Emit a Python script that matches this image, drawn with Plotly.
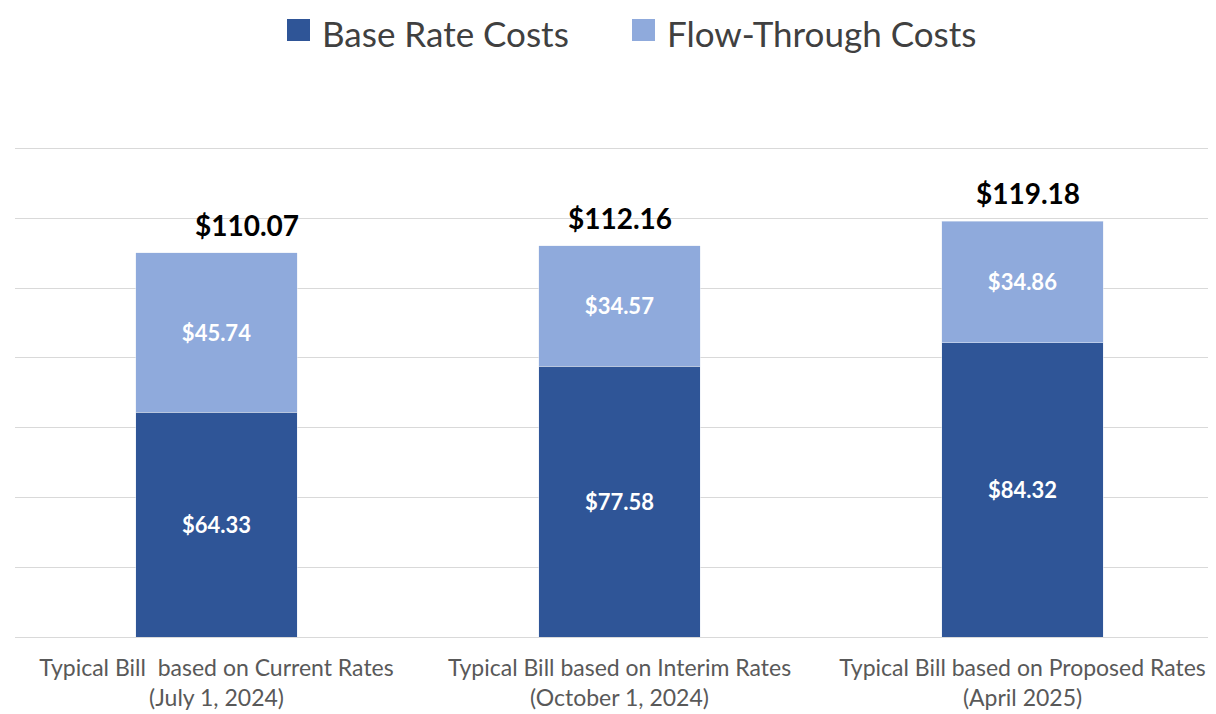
import plotly.graph_objects as go

categories = [
    "Typical Bill  based on Current Rates<br>(July 1, 2024)",
    "Typical Bill based on Interim Rates<br>(October 1, 2024)",
    "Typical Bill based on Proposed Rates<br>(April 2025)",
]
base_rate = [64.33, 77.58, 84.32]
flow_through = [45.74, 34.57, 34.86]
totals = [110.07, 112.16, 119.18]
series_names = ["Base Rate Costs", "Flow-Through Costs"]

dark_blue = "#2F5597"
light_blue = "#8FAADC"
font_name = "Lato"

# plot area in pixels (page body adds an 8px offset)
PLOT_L, PLOT_T, PLOT_W, PLOT_H = 7, 139, 1209, 490
OFF = 8


def paper_x(sx):
    return (sx - OFF - PLOT_L) / PLOT_W


def paper_y(sy):
    return (PLOT_T + PLOT_H - (sy - OFF)) / PLOT_H


fig = go.Figure()

fig.add_trace(go.Bar(
    x=categories, y=base_rate, name=series_names[0],
    marker_color=dark_blue, showlegend=False,
    texttemplate="$%{y:.2f}", textposition="inside", insidetextanchor="middle",
    textfont=dict(color="white", size=22, family=font_name, weight="bold"),
))
fig.add_trace(go.Bar(
    x=categories, y=flow_through, name=series_names[1],
    marker_color=light_blue, showlegend=False,
    texttemplate="$%{y:.2f}", textposition="inside", insidetextanchor="middle",
    textfont=dict(color="white", size=22, family=font_name, weight="bold"),
))

# total labels above each bar
shifts = [30, 0, 5]
for cat, tot, dx in zip(categories, totals, shifts):
    fig.add_annotation(
        x=cat, y=tot, text=f"<b>${tot:.2f}</b>", showarrow=False,
        yanchor="middle", yshift=28, xshift=dx,
        font=dict(size=28, color="black", family=font_name),
    )

# legend drawn by hand so it can sit right at the top like the original
legend_left = [287, 632]
for name, col, left in zip(series_names, [dark_blue, light_blue], legend_left):
    fig.add_shape(
        type="rect", xref="paper", yref="paper",
        x0=paper_x(left), x1=paper_x(left + 23),
        y0=paper_y(41), y1=paper_y(19),
        fillcolor=col, line_width=0,
    )
    fig.add_annotation(
        xref="paper", yref="paper", x=paper_x(left + 33), y=paper_y(33),
        xanchor="left", yanchor="middle", text=name, showarrow=False,
        font=dict(size=35, color="#404040", family=font_name),
    )

fig.update_layout(
    barmode="stack",
    bargap=0.6,
    width=1216, height=714,
    margin=dict(l=PLOT_L, r=0, t=PLOT_T, b=714 - PLOT_T - PLOT_H),
    paper_bgcolor="white", plot_bgcolor="white",
    font=dict(family=font_name),
    showlegend=False,
    xaxis=dict(
        showline=True, linecolor="#d9d9d9", linewidth=1,
        tickfont=dict(size=23, color="#595959"),
        ticklabelstandoff=10, automargin=False,
    ),
    yaxis=dict(
        range=[0, 140.4], dtick=20, showticklabels=False,
        showgrid=True, gridcolor="#d9d9d9", gridwidth=1, zeroline=False,
    ),
)

fig.write_html("out.html")
